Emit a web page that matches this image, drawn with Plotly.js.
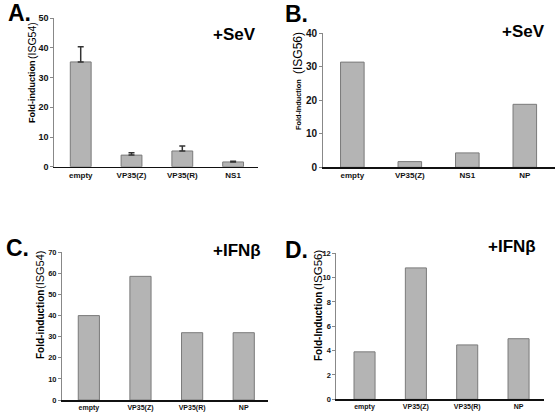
<!DOCTYPE html>
<html>
<head>
<meta charset="utf-8">
<script src="https://cdn.plot.ly/plotly-3.0.1.min.js"></script>
<style>html,body{margin:0;padding:0;background:#fff;}#chart{width:556px;height:416px;}</style>
</head>
<body>
<div id="chart"></div>
<script>
// ---- data ----
var catsA = ['empty', 'VP35(Z)', 'VP35(R)', 'NS1'];
var valsA = [35.3, 3.9, 5.3, 1.6];
var errA  = [5.1, 0.8, 1.7, 0.2];

var catsB = ['empty', 'VP35(Z)', 'NS1', 'NP'];
var valsB = [31.4, 1.7, 4.3, 18.8];

var catsC = ['empty', 'VP35(Z)', 'VP35(R)', 'NP'];
var valsC = [40.0, 58.6, 31.9, 31.9];

var catsD = ['empty', 'VP35(Z)', 'VP35(R)', 'NP'];
var valsD = [3.9, 10.8, 4.47, 4.98];

var ticksA = [0, 10, 20, 30, 40, 50];
var ticksB = [0, 10, 20, 30, 40];
var ticksC = [0, 10, 20, 30, 40, 50, 60, 70];
var ticksD = [0, 2, 4, 6, 8, 10, 12];

// ---- helpers ----
var W = 556, H = 416;
function px(x){ return x / W; }
function py(y){ return 1 - y / H; }
var FONT = 'Arial, "Liberation Sans", sans-serif';
var barStyle = {color: '#b4b4b4', line: {color: '#7a7a7a', width: 1}};

function barTrace(cats, vals, xa, ya, err){
  var t = {type: 'bar', x: cats, y: vals, xaxis: xa, yaxis: ya,
           width: 0.41, marker: barStyle, hoverinfo: 'skip'};
  if (err) {
    t.error_y = {type: 'data', symmetric: false, array: err,
                 arrayminus: err.map(function(){ return 0; }),
                 color: '#333', thickness: 1.5, width: 3};
  }
  return t;
}

function xAx(domain, range, size){
  return {domain: domain, range: range, type: 'category',
          showline: true, linecolor: '#111', linewidth: 1.5,
          ticks: '', showgrid: false, zeroline: false, fixedrange: true,
          tickfont: {family: FONT, size: size, color: '#111', weight: 'bold'}};
}
function yAx(domain, range, tv, size, anchor){
  return {domain: domain, range: range, tickvals: tv, anchor: anchor,
          showline: true, linecolor: '#888', linewidth: 1,
          ticks: 'outside', ticklen: 3, tickcolor: '#888',
          showgrid: false, zeroline: false, fixedrange: true,
          tickfont: {family: FONT, size: size, color: '#111', weight: 'bold'}};
}

var data = [
  barTrace(catsA, valsA, 'x', 'y', errA),
  barTrace(catsB, valsB, 'x2', 'y2'),
  barTrace(catsC, valsC, 'x3', 'y3'),
  barTrace(catsD, valsD, 'x4', 'y4')
];

function ann(text, x, y, size, opts){
  var a = {text: text, x: px(x), y: py(y), xref: 'paper', yref: 'paper',
           showarrow: false, xanchor: 'center', yanchor: 'middle',
           font: {family: FONT, size: size, color: '#000'}};
  for (var k in opts) a[k] = opts[k];
  return a;
}

var annotations = [
  // panel letters
  ann('<b>A.</b>', 19, 13, 23),
  ann('<b>B.</b>', 296, 14, 23),
  ann('<b>C.</b>', 17, 248, 23),
  ann('<b>D.</b>', 296, 250, 23),
  // treatments
  ann('<b>+SeV</b>', 234, 34, 17),
  ann('<b>+SeV</b>', 523, 32, 17),
  ann('<b>+IFN\u03b2</b>', 237, 250, 17),
  ann('<b>+IFN\u03b2</b>', 512, 246, 17),
  // y titles
  ann('<b>Fold-induction</b>', 32, 92, 9, {textangle: -90}),
  ann('(ISG54)', 32, 41, 10.5, {textangle: -90}),
  ann('<b>Fold-Induction</b>', 298, 105, 7.3, {textangle: -90}),
  ann('(ISG56)', 298, 53, 12, {textangle: -90}),
  ann('<b>Fold-induction</b>', 40, 325, 10, {textangle: -90}),
  ann('(ISG54)', 40, 270, 11, {textangle: -90}),
  ann('<b>Fold-Induction</b>', 318, 327, 10, {textangle: -90}),
  ann('(ISG56)', 318, 270, 11.5, {textangle: -90})
];

var layout = {
  width: W, height: H,
  margin: {l: 0, r: 0, t: 0, b: 0},
  paper_bgcolor: '#fff', plot_bgcolor: 'rgba(0,0,0,0)',
  showlegend: false,
  font: {family: FONT, color: '#000'},
  xaxis:  xAx([px(54.3), px(258)], [-0.52, 3.49], 8),
  yaxis:  yAx([py(166.7), py(18.3)], [0, 50], ticksA, 9, 'x'),
  xaxis2: xAx([px(323), px(554.7)], [-0.51, 3.52], 8),
  yaxis2: yAx([py(167.3), py(33.3)], [0, 40], ticksB, 10, 'x2'),
  xaxis3: xAx([px(62), px(268)], [-0.52, 3.47], 7),
  yaxis3: yAx([py(400), py(252.3)], [0, 70], ticksC, 7.5, 'x3'),
  xaxis4: xAx([px(336.3), px(543.7)], [-0.55, 3.49], 7),
  yaxis4: yAx([py(399.3), py(253.3)], [0, 12], ticksD, 7.5, 'x4'),
  annotations: annotations
};
layout.xaxis.anchor = 'y';
layout.xaxis2.anchor = 'y2';
layout.xaxis3.anchor = 'y3';
layout.xaxis4.anchor = 'y4';

Plotly.newPlot('chart', data, layout, {staticPlot: true, displayModeBar: false});
</script>
</body>
</html>
